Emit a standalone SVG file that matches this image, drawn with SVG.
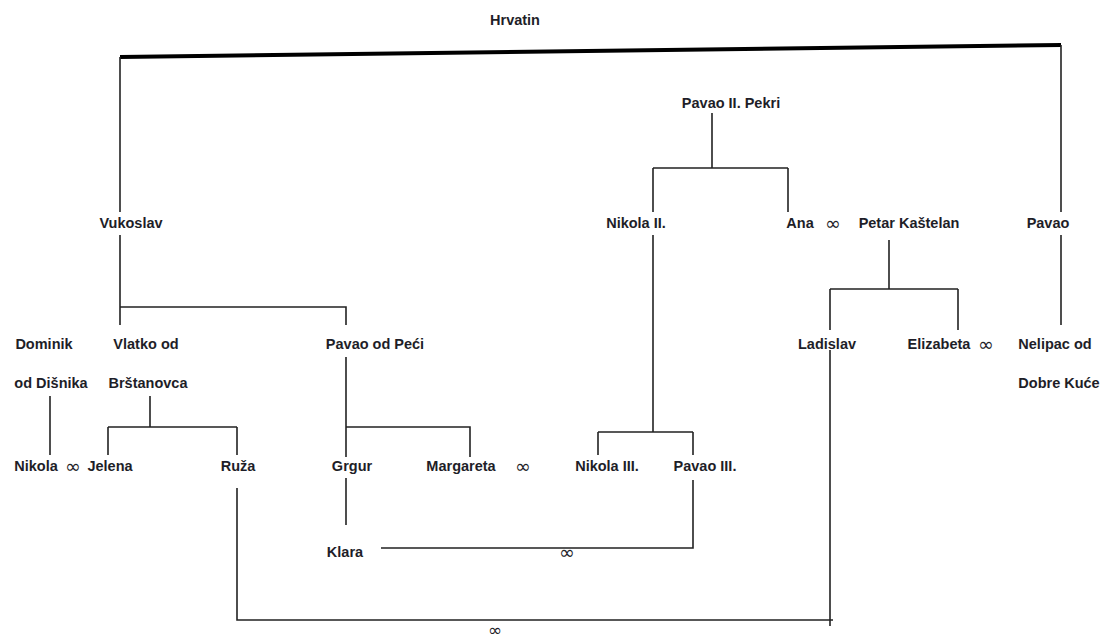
<svg xmlns="http://www.w3.org/2000/svg" width="1105" height="641" viewBox="0 0 1105 641">
<style>
.t{font-family:"Liberation Sans",Arial,sans-serif;font-size:14.5px;font-weight:bold;fill:#1e1e28;text-anchor:middle;dominant-baseline:central}
.m{font-family:"DejaVu Sans",sans-serif;font-size:19px;fill:#1e1e28;text-anchor:middle;dominant-baseline:central}
.c{fill:none;stroke:#222;stroke-width:1.6}
</style>
<rect width="1105" height="641" fill="#fff"/>
<g id="connectors">
<path d="M120,57 L1061,45" fill="none" stroke="#000" stroke-width="4"/>
<path class="c" d="M120,57 V212"/>
<path class="c" d="M1061,45 V212"/>
<path class="c" d="M712,113 V168 M653,168 H788 M653,168 V212 M788,168 V212"/>
<path class="c" d="M120,235 V307 H346 V325 M120,307 V325"/>
<path class="c" d="M653,235 V432 M598,432 H693 M598,432 V455 M693,432 V455"/>
<path class="c" d="M889,240 V289 M830,289 H958 M830,289 V330 M958,289 V330"/>
<path class="c" d="M1061,235 V325"/>
<path class="c" d="M50,396 V455"/>
<path class="c" d="M150,396 V427 M108,427 H237 M108,427 V455 M237,427 V455"/>
<path class="c" d="M346,357 V457 M346,427 H470 V457"/>
<path class="c" d="M346,478 V525"/>
<path class="c" d="M381,548 H693 V480"/>
<path class="c" d="M237,488 V620 H833 M830,350 V626"/>
</g>
<g id="n-hrvatin"><text class="t" x="515" y="20">Hrvatin</text></g>
<g id="n-pavao2"><text class="t" x="731" y="103">Pavao II. Pekri</text></g>
<g id="n-vukoslav"><text class="t" x="131" y="223">Vukoslav</text></g>
<g id="n-nikola2"><text class="t" x="636" y="223">Nikola II.</text></g>
<g id="n-ana"><text class="t" x="800" y="223">Ana</text><text class="m" x="833" y="223">∞</text></g>
<g id="n-petar"><text class="t" x="909" y="223">Petar Kaštelan</text></g>
<g id="n-pavao"><text class="t" x="1048" y="223">Pavao</text></g>
<g id="n-dominik"><text class="t" x="44" y="344">Dominik</text><text class="t" x="51" y="383">od Dišnika</text></g>
<g id="n-vlatko"><text class="t" x="146" y="344">Vlatko od</text><text class="t" x="148" y="383">Brštanovca</text></g>
<g id="n-pavaopeci"><text class="t" x="375" y="344">Pavao od Peći</text></g>
<g id="n-ladislav"><text class="t" x="827" y="344">Ladislav</text></g>
<g id="n-elizabeta"><text class="t" x="939" y="344">Elizabeta</text><text class="m" x="986" y="344">∞</text></g>
<g id="n-nelipac"><text class="t" x="1055" y="344">Nelipac od</text><text class="t" x="1059" y="383">Dobre Kuće</text></g>
<g id="n-nikola"><text class="t" x="36" y="466">Nikola</text><text class="m" x="73" y="466">∞</text></g>
<g id="n-jelena"><text class="t" x="110" y="466">Jelena</text></g>
<g id="n-ruza"><text class="t" x="238" y="466">Ruža</text></g>
<g id="n-grgur"><text class="t" x="352" y="466">Grgur</text></g>
<g id="n-margareta"><text class="t" x="461" y="466">Margareta</text><text class="m" x="523" y="466">∞</text></g>
<g id="n-nikola3"><text class="t" x="607" y="466">Nikola III.</text></g>
<g id="n-pavao3"><text class="t" x="705" y="466">Pavao III.</text></g>
<g id="n-klara"><text class="t" x="345" y="552">Klara</text></g>
<g id="m-klara"><text class="m" x="567" y="552">∞</text></g>
<g id="m-ruza"><text class="m" x="495" y="630" style="font-size:17px">∞</text></g>
</svg>
